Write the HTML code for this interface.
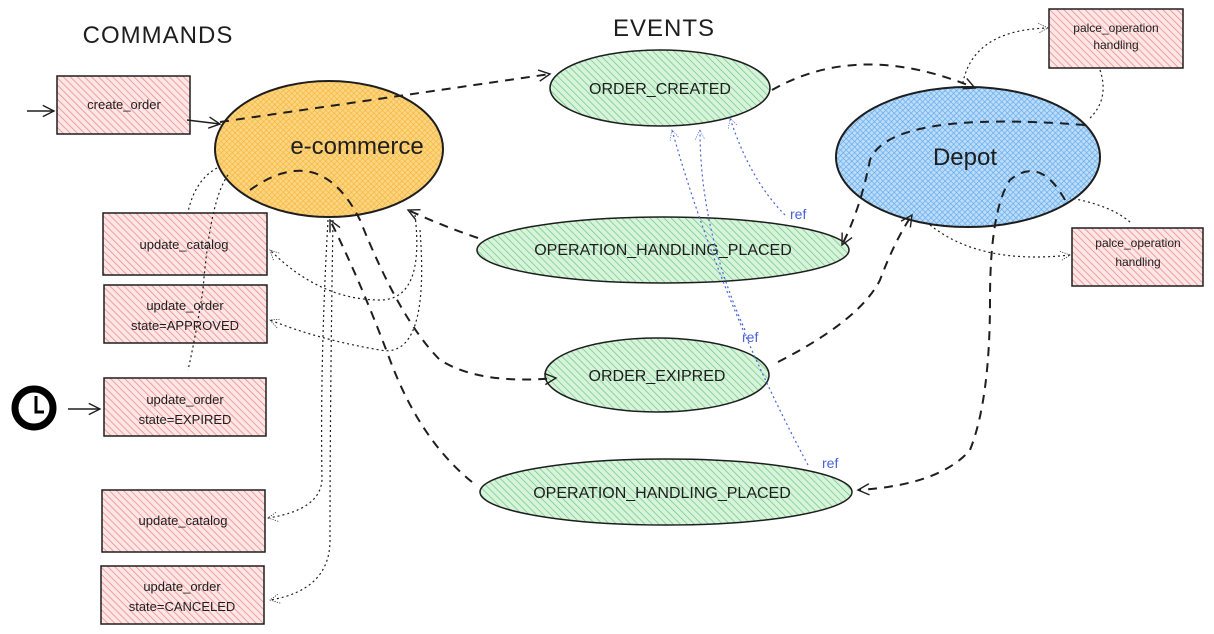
<!DOCTYPE html>
<html><head><meta charset="utf-8"><style>
html,body{margin:0;padding:0;background:#fff;}
svg{display:block;}
text{font-family:"Liberation Sans",sans-serif;fill:#1e1e1e;}
</style></head><body>
<svg width="1214" height="634" viewBox="0 0 1214 634" xmlns="http://www.w3.org/2000/svg">
<defs>
<pattern id="hr" width="5" height="5" patternUnits="userSpaceOnUse" patternTransform="rotate(-45)"><rect width="5" height="5" fill="#fde6e6"/><line x1="0" y1="0" x2="0" y2="5" stroke="#f08c8c" stroke-width="1.6"/></pattern>
<pattern id="hg" width="5" height="5" patternUnits="userSpaceOnUse" patternTransform="rotate(-45)"><rect width="5" height="5" fill="#d8f3dc"/><line x1="0" y1="0" x2="0" y2="5" stroke="#69c97a" stroke-width="1.4"/></pattern>
<pattern id="ho" width="4" height="4" patternUnits="userSpaceOnUse" patternTransform="rotate(-45)"><rect width="4" height="4" fill="#fcd582"/><path d="M0 0V4M0 0H4" stroke="#f5b437" stroke-width="1.2"/></pattern>
<pattern id="hb" width="4" height="4" patternUnits="userSpaceOnUse" patternTransform="rotate(-45)"><rect width="4" height="4" fill="#bcdcf8"/><path d="M0 0V4M0 0H4" stroke="#5ca7ec" stroke-width="1.2"/></pattern>
<marker id="a" viewBox="0 0 20 20" refX="18" refY="10" markerWidth="14" markerHeight="14" orient="auto" markerUnits="userSpaceOnUse"><path d="M2 2L18 10L2 18" fill="none" stroke="#1e1e1e" stroke-width="2"/></marker>
<marker id="ad" viewBox="0 0 20 20" refX="18" refY="10" markerWidth="12" markerHeight="12" orient="auto" markerUnits="userSpaceOnUse"><path d="M2 2L18 10L2 18" fill="none" stroke="#1e1e1e" stroke-width="1.2" stroke-dasharray="2 2"/></marker>
<marker id="ab" viewBox="0 0 20 20" refX="18" refY="10" markerWidth="12" markerHeight="12" orient="auto" markerUnits="userSpaceOnUse"><path d="M2 2L18 10L2 18" fill="none" stroke="#4a62d8" stroke-width="1.2" stroke-dasharray="2 2"/></marker>
</defs>

<text x="158" y="43" font-size="24" text-anchor="middle" letter-spacing="1">COMMANDS</text>
<text x="664" y="36" font-size="24" text-anchor="middle" letter-spacing="1">EVENTS</text>

<!-- ellipses -->
<ellipse cx="329" cy="149" rx="114" ry="68" fill="url(#ho)" stroke="#1e1e1e" stroke-width="2"/>
<text x="357" y="154" font-size="24" text-anchor="middle">e-commerce</text>
<ellipse cx="968" cy="157" rx="132" ry="70" fill="url(#hb)" stroke="#1e1e1e" stroke-width="2"/>
<text x="965" y="165" font-size="24" text-anchor="middle">Depot</text>
<ellipse cx="660" cy="88" rx="110" ry="38" fill="url(#hg)" stroke="#1e1e1e" stroke-width="1.5"/>
<text x="660" y="94" font-size="16" text-anchor="middle">ORDER_CREATED</text>
<ellipse cx="663" cy="250" rx="186" ry="33" fill="url(#hg)" stroke="#1e1e1e" stroke-width="1.5"/>
<text x="663" y="255" font-size="16" text-anchor="middle">OPERATION_HANDLING_PLACED</text>
<ellipse cx="657" cy="375" rx="112" ry="37" fill="url(#hg)" stroke="#1e1e1e" stroke-width="1.5"/>
<text x="657" y="381" font-size="16" text-anchor="middle">ORDER_EXIPRED</text>
<ellipse cx="666" cy="492" rx="186" ry="33" fill="url(#hg)" stroke="#1e1e1e" stroke-width="1.5"/>
<text x="662" y="498" font-size="16" text-anchor="middle">OPERATION_HANDLING_PLACED</text>

<!-- boxes -->
<g stroke="#1e1e1e" stroke-width="1.5" fill="url(#hr)">
<rect x="57" y="76" width="133" height="58"/>
<rect x="103" y="213" width="164" height="62"/>
<rect x="104" y="285" width="163" height="58"/>
<rect x="104" y="378" width="162" height="58"/>
<rect x="102" y="490" width="163" height="62"/>
<rect x="101" y="566" width="163" height="58"/>
<rect x="1049" y="9" width="134" height="59"/>
<rect x="1072" y="228" width="131" height="58"/>
</g>
<g font-size="13" text-anchor="middle">
<text x="124" y="109">create_order</text>
<text x="184" y="249">update_catalog</text>
<text x="185" y="310">update_order</text><text x="185" y="330">state=APPROVED</text>
<text x="185" y="404">update_order</text><text x="185" y="424">state=EXPIRED</text>
<text x="183" y="525">update_catalog</text>
<text x="182" y="591">update_order</text><text x="182" y="611">state=CANCELED</text>
<text x="1116" y="32" font-size="12">palce_operation</text><text x="1116" y="49" font-size="12">handling</text>
<text x="1138" y="247" font-size="12">palce_operation</text><text x="1138" y="266" font-size="12">handling</text>
</g>

<!-- clock -->
<circle cx="34" cy="408" r="19" fill="#fff" stroke="#000" stroke-width="7"/>
<path d="M36 396V412H44" fill="none" stroke="#000" stroke-width="3"/>

<!-- solid small arrows -->
<g fill="none" stroke="#1e1e1e" stroke-width="1.5">
<path d="M27 111H54" marker-end="url(#a)"/>
<path d="M187 120L220 124" marker-end="url(#a)"/>
<path d="M68 409H100" marker-end="url(#a)"/>
</g>

<!-- dashed main arrows -->
<g fill="none" stroke="#1e1e1e" stroke-width="2" stroke-dasharray="9 7">
<path d="M220 122L550 74" marker-end="url(#a)"/>
<path d="M772 90Q860 40 975 88" marker-end="url(#a)"/>
<path d="M1085 125Q890 110 870 160Q860 210 842 245" marker-end="url(#a)"/>
<path d="M478 238Q440 225 408 210" marker-end="url(#a)"/>
<path d="M250 190Q320 140 360 220Q400 320 440 360Q480 385 556 378" marker-end="url(#a)"/>
<path d="M778 362Q860 320 880 280Q895 240 912 215" marker-end="url(#a)"/>
<path d="M1065 200Q1040 155 1010 180Q990 210 990 300Q990 400 970 450Q940 485 858 490" marker-end="url(#a)"/>
<path d="M472 482Q420 440 390 360Q360 280 330 220" marker-end="url(#a)"/>
</g>

<!-- blue dotted refs -->
<g fill="none" stroke="#4a62d8" stroke-width="1.2" stroke-dasharray="2 3">
<path d="M785 215Q750 180 730 118" marker-end="url(#ab)"/>
<path d="M745 330Q700 230 700 130" marker-end="url(#ab)"/>
<path d="M808 465Q720 300 672 130" marker-end="url(#ab)"/>
</g>
<g font-size="14" fill="#4a62d8"><text x="790" y="219" style="fill:#4a62d8">ref</text><text x="742" y="342" style="fill:#4a62d8">ref</text><text x="822" y="468" style="fill:#4a62d8">ref</text></g>

<!-- black dotted -->
<g fill="none" stroke="#1e1e1e" stroke-width="1.2" stroke-dasharray="2 3">
<path d="M217 168Q195 180 188 212"/>
<path d="M228 175Q210 200 203 290Q195 340 188 370"/>
<path d="M415 215Q425 300 380 300Q320 300 270 250" marker-end="url(#ad)"/>
<path d="M420 230Q430 360 380 350Q320 340 270 320" marker-end="url(#ad)"/>
<path d="M328 220Q320 360 322 480Q320 510 268 518" marker-end="url(#ad)"/>
<path d="M333 220Q330 400 330 540Q330 590 270 600" marker-end="url(#ad)"/>
<path d="M962 88Q970 30 1048 28" marker-end="url(#ad)"/>
<path d="M1100 70Q1110 100 1088 120"/>
<path d="M1130 222Q1110 205 1070 198"/>
<path d="M930 225Q980 265 1070 255" marker-end="url(#ad)"/>
</g>
</svg>
</body></html>
